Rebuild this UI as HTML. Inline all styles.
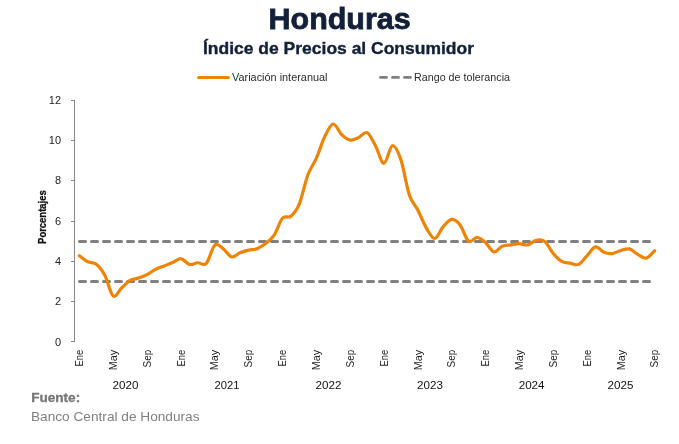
<!DOCTYPE html>
<html><head><meta charset="utf-8"><style>
html,body{margin:0;padding:0;background:#fff;}
body{width:679px;height:444px;overflow:hidden;}
svg{display:block;will-change:transform;}
text{font-family:"Liberation Sans",sans-serif;}
.ttl{font-size:29.8px;font-weight:bold;fill:#13203a;stroke:#13203a;stroke-width:0.8;}
.sub{font-size:15.9px;font-weight:bold;fill:#13203a;stroke:#13203a;stroke-width:0.35;}
.lg{font-size:11px;fill:#2a2a2a;}
.yl{font-size:11px;fill:#222;}
.ml{font-size:10.6px;fill:#222;}
.yr{font-size:11px;fill:#111;}
.por{font-size:10px;font-weight:bold;fill:#111;stroke:#111;stroke-width:0.3;}
.fu{font-size:12.5px;font-weight:bold;fill:#767676;stroke:#767676;stroke-width:0.3;}
.bc{font-size:13px;fill:#7f7f7f;}
.ax{stroke:#868686;stroke-width:1;}
</style></head><body>
<svg width="679" height="444" viewBox="0 0 679 444">
<text x="268.6" y="28.75" textLength="142" lengthAdjust="spacingAndGlyphs" class="ttl">Honduras</text>
<text x="203" y="53.6" textLength="271" lengthAdjust="spacingAndGlyphs" class="sub">Índice de Precios al Consumidor</text>
<line x1="198.6" y1="77.45" x2="228.4" y2="77.45" stroke="#ef8306" stroke-width="3" stroke-linecap="round"/>
<text x="232" y="81" textLength="95.5" lengthAdjust="spacingAndGlyphs" class="lg">Variación interanual</text>
<line x1="380.5" y1="77.4" x2="410.5" y2="77.4" stroke="#7f7f7f" stroke-width="2.8" stroke-dasharray="6 6" stroke-linecap="round"/>
<text x="414" y="81" textLength="96" lengthAdjust="spacingAndGlyphs" class="lg">Rango de tolerancia</text>
<line x1="74.5" y1="100" x2="74.5" y2="342" class="ax"/>
<line x1="71" y1="341.5" x2="75" y2="341.5" class="ax"/>
<text x="61.1" y="345.80" text-anchor="end" class="yl">0</text>
<line x1="71" y1="301.5" x2="75" y2="301.5" class="ax"/>
<text x="61.1" y="305.45" text-anchor="end" class="yl">2</text>
<line x1="71" y1="261.5" x2="75" y2="261.5" class="ax"/>
<text x="61.1" y="265.10" text-anchor="end" class="yl">4</text>
<line x1="71" y1="221.5" x2="75" y2="221.5" class="ax"/>
<text x="61.1" y="224.75" text-anchor="end" class="yl">6</text>
<line x1="71" y1="180.5" x2="75" y2="180.5" class="ax"/>
<text x="61.1" y="184.40" text-anchor="end" class="yl">8</text>
<line x1="71" y1="140.5" x2="75" y2="140.5" class="ax"/>
<text x="61.1" y="144.05" text-anchor="end" class="yl">10</text>
<line x1="71" y1="100.5" x2="75" y2="100.5" class="ax"/>
<text x="61.1" y="103.70" text-anchor="end" class="yl">12</text>

<text transform="translate(45.6 217.1) rotate(-90)" x="-26.8" textLength="53.6" lengthAdjust="spacingAndGlyphs" class="por">Porcentajes</text>
<line x1="79.5" y1="241.4" x2="652" y2="241.4" stroke="#7f7f7f" stroke-width="3" stroke-dasharray="6 6" stroke-linecap="round"/>
<line x1="79.5" y1="281.4" x2="652" y2="281.4" stroke="#7f7f7f" stroke-width="3" stroke-dasharray="6 6" stroke-linecap="round"/>
<path d="M79.40 255.75 C80.81 256.75 85.04 260.36 87.86 261.77 C90.68 263.18 93.50 261.94 96.32 264.18 C99.14 266.42 101.96 269.94 104.78 275.23 C107.60 280.51 110.42 293.80 113.24 295.91 C116.06 298.02 118.88 290.46 121.70 287.88 C124.52 285.30 127.34 282.09 130.16 280.45 C132.98 278.81 135.80 279.01 138.62 278.04 C141.44 277.07 144.26 276.06 147.08 274.62 C149.90 273.18 152.72 270.84 155.54 269.40 C158.36 267.96 161.18 267.13 164.00 265.99 C166.82 264.85 169.64 263.81 172.46 262.57 C175.28 261.34 178.10 258.26 180.92 258.56 C183.74 258.86 186.56 263.68 189.38 264.38 C192.20 265.08 195.02 262.94 197.84 262.77 C200.66 262.61 203.48 266.32 206.30 263.38 C209.12 260.43 211.94 247.55 214.76 245.10 C217.58 242.66 220.40 246.74 223.22 248.72 C226.04 250.69 228.86 256.28 231.68 256.95 C234.50 257.62 237.32 253.87 240.14 252.73 C242.96 251.60 245.78 250.79 248.60 250.12 C251.42 249.45 254.24 249.82 257.06 248.72 C259.88 247.61 262.70 245.70 265.52 243.49 C268.34 241.29 271.16 239.68 273.98 235.46 C276.80 231.24 279.62 221.40 282.44 218.19 C285.26 214.98 288.08 218.56 290.90 216.18 C293.72 213.81 296.54 210.79 299.36 203.93 C302.18 197.07 305.00 182.61 307.82 175.01 C310.64 167.41 313.46 164.74 316.28 158.34 C319.10 151.95 321.92 142.38 324.74 136.65 C327.56 130.93 330.38 124.34 333.20 124.00 C336.02 123.67 338.84 131.97 341.66 134.65 C344.48 137.32 347.30 139.57 350.12 140.07 C352.94 140.57 355.76 138.90 358.58 137.66 C361.40 136.42 364.22 131.30 367.04 132.64 C369.86 133.98 372.68 140.57 375.50 145.69 C378.32 150.81 381.14 163.36 383.96 163.36 C386.78 163.36 389.60 146.29 392.42 145.69 C395.24 145.09 398.06 151.55 400.88 159.75 C403.70 167.95 406.52 186.53 409.34 194.89 C412.16 203.26 414.98 204.47 417.80 209.96 C420.62 215.45 423.44 223.08 426.26 227.83 C429.08 232.58 431.90 238.68 434.72 238.47 C437.54 238.27 440.36 229.81 443.18 226.63 C446.00 223.45 448.82 219.66 451.64 219.40 C454.46 219.13 457.28 221.37 460.10 225.02 C462.92 228.67 465.74 239.21 468.56 241.29 C471.38 243.36 474.20 237.27 477.02 237.47 C479.84 237.67 482.66 240.08 485.48 242.49 C488.30 244.90 491.12 251.33 493.94 251.93 C496.76 252.53 499.58 247.28 502.40 246.11 C505.22 244.93 508.04 245.30 510.86 244.90 C513.68 244.50 516.50 243.70 519.32 243.70 C522.14 243.70 524.96 245.47 527.78 244.90 C530.60 244.33 533.42 240.85 536.24 240.28 C539.06 239.71 541.88 239.31 544.70 241.49 C547.52 243.66 550.34 250.02 553.16 253.34 C555.98 256.65 558.80 259.73 561.62 261.37 C564.44 263.01 567.26 262.67 570.08 263.18 C572.90 263.68 575.72 265.62 578.54 264.38 C581.36 263.14 584.18 258.66 587.00 255.75 C589.82 252.83 592.64 247.48 595.46 246.91 C598.28 246.34 601.10 251.23 603.92 252.33 C606.74 253.44 609.56 253.84 612.38 253.54 C615.20 253.24 618.02 251.29 620.84 250.52 C623.66 249.75 626.48 248.28 629.30 248.92 C632.12 249.55 634.94 252.80 637.76 254.34 C640.58 255.88 643.40 258.76 646.22 258.16 C649.04 257.55 653.27 251.96 654.68 250.72" fill="none" stroke="#ef8306" stroke-width="3.2" stroke-linecap="round" stroke-linejoin="round"/>
<text transform="translate(83.10 349.2) rotate(-90)" x="-17.2" textLength="16.6" lengthAdjust="spacingAndGlyphs" class="ml">Ene</text>
<text transform="translate(116.94 349.2) rotate(-90)" x="-21.0" textLength="20.4" lengthAdjust="spacingAndGlyphs" class="ml">May</text>
<text transform="translate(150.78 349.2) rotate(-90)" x="-18.2" textLength="17.6" lengthAdjust="spacingAndGlyphs" class="ml">Sep</text>
<text transform="translate(184.62 349.2) rotate(-90)" x="-17.2" textLength="16.6" lengthAdjust="spacingAndGlyphs" class="ml">Ene</text>
<text transform="translate(218.46 349.2) rotate(-90)" x="-21.0" textLength="20.4" lengthAdjust="spacingAndGlyphs" class="ml">May</text>
<text transform="translate(252.30 349.2) rotate(-90)" x="-18.2" textLength="17.6" lengthAdjust="spacingAndGlyphs" class="ml">Sep</text>
<text transform="translate(286.14 349.2) rotate(-90)" x="-17.2" textLength="16.6" lengthAdjust="spacingAndGlyphs" class="ml">Ene</text>
<text transform="translate(319.98 349.2) rotate(-90)" x="-21.0" textLength="20.4" lengthAdjust="spacingAndGlyphs" class="ml">May</text>
<text transform="translate(353.82 349.2) rotate(-90)" x="-18.2" textLength="17.6" lengthAdjust="spacingAndGlyphs" class="ml">Sep</text>
<text transform="translate(387.66 349.2) rotate(-90)" x="-17.2" textLength="16.6" lengthAdjust="spacingAndGlyphs" class="ml">Ene</text>
<text transform="translate(421.50 349.2) rotate(-90)" x="-21.0" textLength="20.4" lengthAdjust="spacingAndGlyphs" class="ml">May</text>
<text transform="translate(455.34 349.2) rotate(-90)" x="-18.2" textLength="17.6" lengthAdjust="spacingAndGlyphs" class="ml">Sep</text>
<text transform="translate(489.18 349.2) rotate(-90)" x="-17.2" textLength="16.6" lengthAdjust="spacingAndGlyphs" class="ml">Ene</text>
<text transform="translate(523.02 349.2) rotate(-90)" x="-21.0" textLength="20.4" lengthAdjust="spacingAndGlyphs" class="ml">May</text>
<text transform="translate(556.86 349.2) rotate(-90)" x="-18.2" textLength="17.6" lengthAdjust="spacingAndGlyphs" class="ml">Sep</text>
<text transform="translate(590.70 349.2) rotate(-90)" x="-17.2" textLength="16.6" lengthAdjust="spacingAndGlyphs" class="ml">Ene</text>
<text transform="translate(624.54 349.2) rotate(-90)" x="-21.0" textLength="20.4" lengthAdjust="spacingAndGlyphs" class="ml">May</text>
<text transform="translate(658.38 349.2) rotate(-90)" x="-18.2" textLength="17.6" lengthAdjust="spacingAndGlyphs" class="ml">Sep</text>
<text x="112.58" y="389" textLength="25.9" lengthAdjust="spacingAndGlyphs" class="yr">2020</text>
<text x="214.60" y="389" textLength="24.9" lengthAdjust="spacingAndGlyphs" class="yr">2021</text>
<text x="315.62" y="389" textLength="25.9" lengthAdjust="spacingAndGlyphs" class="yr">2022</text>
<text x="417.14" y="389" textLength="25.9" lengthAdjust="spacingAndGlyphs" class="yr">2023</text>
<text x="518.66" y="389" textLength="25.9" lengthAdjust="spacingAndGlyphs" class="yr">2024</text>
<text x="607.49" y="389" textLength="25.9" lengthAdjust="spacingAndGlyphs" class="yr">2025</text>

<text x="31.2" y="402.1" textLength="49" lengthAdjust="spacingAndGlyphs" class="fu">Fuente:</text>
<text x="31" y="420.9" textLength="168.5" lengthAdjust="spacingAndGlyphs" class="bc">Banco Central de Honduras</text>
</svg>
</body></html>
